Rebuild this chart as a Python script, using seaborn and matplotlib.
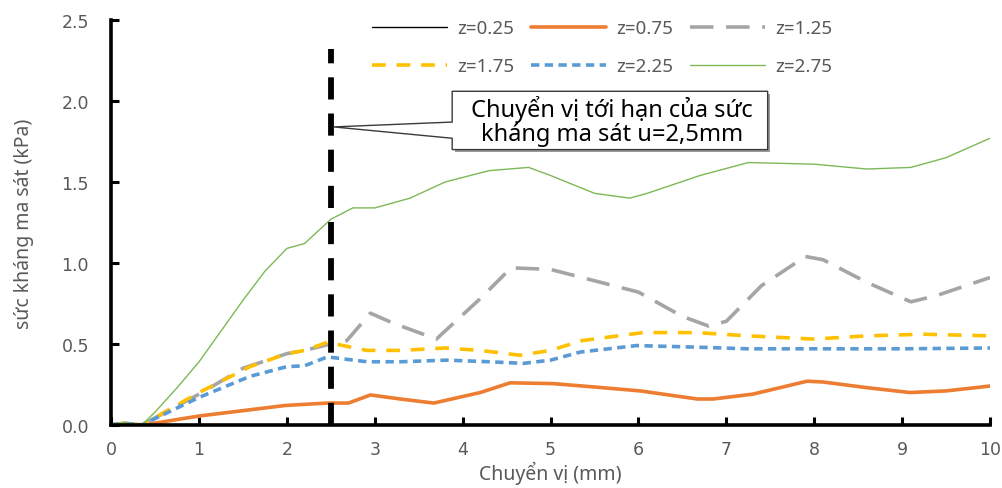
import numpy as np
import pandas as pd
import seaborn as sns
import matplotlib
matplotlib.use("Agg")
import matplotlib.pyplot as plt
from matplotlib.patches import Polygon
import matplotlib.transforms as mtrans

# ---------------- data ----------------
x_025 = [0, 2.5, 5, 7.5, 10]
y_025 = [0, 0, 0, 0, 0]

x_075 = [0, 0.15, 0.37, 1.0, 1.98, 2.46, 2.7, 2.95, 3.29, 3.67, 4.2, 4.54, 5.03,
         5.48, 6.02, 6.67, 6.85, 7.3, 7.92, 8.1, 8.6, 9.09, 9.5, 10]
y_075 = [0, 0.005, 0, 0.055, 0.12, 0.135, 0.135, 0.185, 0.16, 0.135, 0.20, 0.26, 0.255,
         0.235, 0.21, 0.16, 0.16, 0.19, 0.27, 0.265, 0.23, 0.20, 0.21, 0.24]

x_125 = [0, 0.15, 0.35, 1.0, 1.5, 2.0, 2.2, 2.5, 2.68, 2.95, 3.2, 3.45, 3.7, 4.2, 4.55,
         5.0, 5.5, 6.0, 6.5, 6.8, 7.0, 7.4, 7.9, 8.1, 8.6, 9.1, 9.4, 10]
y_125 = [0, 0.01, 0, 0.19, 0.35, 0.44, 0.46, 0.50, 0.52, 0.69, 0.63, 0.58, 0.53, 0.78, 0.97,
         0.96, 0.89, 0.82, 0.67, 0.61, 0.64, 0.86, 1.04, 1.02, 0.88, 0.76, 0.80, 0.91]

x_175 = [0, 0.15, 0.35, 1.0, 1.58, 2.0, 2.2, 2.46, 2.64, 2.91, 3.3, 3.8, 4.2, 4.65, 5.0,
         5.35, 6.05, 6.67, 7.24, 8.0, 8.6, 9.24, 10]
y_175 = [0, 0.01, 0, 0.20, 0.36, 0.44, 0.46, 0.51, 0.49, 0.46, 0.46, 0.475, 0.46, 0.43, 0.46,
         0.52, 0.57, 0.57, 0.55, 0.53, 0.55, 0.56, 0.55]

x_225 = [0, 0.15, 0.35, 1.0, 1.58, 2.0, 2.2, 2.46, 2.91, 3.3, 3.82, 4.3, 4.69, 5.0, 5.34,
         5.98, 6.67, 7.24, 8.0, 9.0, 10]
y_225 = [0, 0.01, 0, 0.17, 0.30, 0.36, 0.365, 0.42, 0.39, 0.39, 0.40, 0.39, 0.38, 0.40, 0.45,
         0.49, 0.48, 0.47, 0.47, 0.47, 0.475]

x_275 = [0, 0.15, 0.35, 0.5, 0.75, 1.0, 1.25, 1.5, 1.75, 2.0, 2.2, 2.5, 2.75, 3.0, 3.4, 3.8,
         4.3, 4.75, 5.0, 5.5, 5.9, 6.1, 6.7, 7.25, 8.0, 8.6, 9.1, 9.5, 10]
y_275 = [0, 0.015, 0, 0.08, 0.23, 0.39, 0.58, 0.77, 0.95, 1.09, 1.12, 1.27, 1.34, 1.34, 1.40,
         1.50, 1.57, 1.59, 1.54, 1.43, 1.40, 1.43, 1.54, 1.62, 1.61, 1.58, 1.59, 1.65, 1.77]

series_labels = ["z=0.25", "z=0.75", "z=1.25", "z=1.75", "z=2.25", "z=2.75"]
x_ticks = [0, 1, 2, 3, 4, 5, 6, 7, 8, 9, 10]
y_ticks = [0.0, 0.5, 1.0, 1.5, 2.0, 2.5]
critical_u = 2.5
critical_top = 2.32
note_text = "Chuyển vị tới hạn của sức\nkháng ma sát u=2,5mm"
x_label = "Chuyển vị (mm)"
y_label = "sức kháng ma sát (kPa)"

# ---------------- style ----------------
sns.set_style("white")
plt.rcParams["font.family"] = ["Noto Sans", "DejaVu Sans"]
gray_txt = "#595959"

styles = [
    dict(color="black", lw=1.0, ls="-"),
    dict(color="#ED7D31", lw=2.6, ls="-"),
    dict(color="#A5A5A5", lw=2.6, ls=(0, (6.5, 3.5))),
    dict(color="#FFC000", lw=2.6, ls=(0, (3.8, 3.0))),
    dict(color="#5B9BD5", lw=2.6, ls=(0, (2.3, 1.5))),
    dict(color="#7DB857", lw=1.0, ls="-"),
]

fig = plt.figure(figsize=(10.02, 4.89), dpi=100)
ax = fig.add_axes([0.111, 0.129, 0.877, 0.828])

xs = [x_025, x_075, x_125, x_175, x_225, x_275]
ys = [y_025, y_075, y_125, y_175, y_225, y_275]
for xv, yv, lab, st in zip(xs, ys, series_labels, styles):
    df = pd.DataFrame({"x": xv, "y": yv})
    sns.lineplot(data=df, x="x", y="y", ax=ax, label=lab, color=st["color"],
                 linewidth=st["lw"], linestyle=st["ls"], estimator=None, sort=False,
                 legend=False, zorder=3)

# critical displacement line
ax.axvline(critical_u, ymin=0, ymax=critical_top / 2.5, color="black", lw=4.2,
           linestyle=(0, (3.8, 2.4)), zorder=4)

ax.set_xlim(0, 10)
ax.set_ylim(0, 2.5)
ax.set_xticks(x_ticks)
ax.set_yticks(y_ticks)
ax.set_xticklabels([str(t) for t in x_ticks])
ax.set_yticklabels([f"{t:.1f}" for t in y_ticks])
for lbl in ax.get_xticklabels() + ax.get_yticklabels():
    lbl.set_family("DejaVu Sans")
ax.tick_params(axis="both", direction="in", length=6, width=2.2, color="black",
               labelsize=12.5, labelcolor=gray_txt, bottom=True, left=True)
ax.tick_params(axis="x", pad=11)
ax.tick_params(axis="y", pad=16)
for s in ["top", "right"]:
    ax.spines[s].set_visible(False)
for s in ["left", "bottom"]:
    ax.spines[s].set_linewidth(2.6)
    ax.spines[s].set_color("black")
    ax.spines[s].set_zorder(5)

ax.set_xlabel(x_label, fontsize=14, color=gray_txt, labelpad=2)
ax.set_ylabel(y_label, fontsize=14, color=gray_txt, labelpad=20)

# legend (row-major order)
handles, labels = ax.get_legend_handles_labels()
order = [0, 3, 1, 4, 2, 5]
leg = ax.legend([handles[i] for i in order], [labels[i] for i in order], ncol=3,
                frameon=False, loc="upper left", bbox_to_anchor=(0.288, 1.02),
                fontsize=13.5, handlelength=4.0, handletextpad=0.55, columnspacing=0.9,
                labelspacing=1.05, borderaxespad=0)
for t in leg.get_texts():
    t.set_color(gray_txt)

# callout box
bx0, bx1, by0, by1 = 3.88, 7.47, 1.70, 2.06
tip = (2.53, 1.84)
notch = (1.77, 1.87)
verts = [(bx0, by1), (bx1, by1), (bx1, by0), (bx0, by0), (bx0, notch[0]), tip,
         (bx0, notch[1])]
shadow_tr = mtrans.offset_copy(ax.transData, fig=fig, x=2.5, y=-2.5, units="dots")
ax.add_patch(Polygon([(bx0, by1), (bx1, by1), (bx1, by0), (bx0, by0)], closed=True,
                     facecolor="#9a9a9a", edgecolor="none", transform=shadow_tr, zorder=6))
ax.add_patch(Polygon(verts, closed=True, facecolor="white", edgecolor="#3a3a3a", lw=1.0,
                     zorder=7))
ax.text((bx0 + bx1) / 2 + 0.02, (by0 + by1) / 2, note_text, ha="center", va="center",
        fontsize=17, color="black", linespacing=1.0, zorder=8)

fig.savefig("out.png", dpi=100)
